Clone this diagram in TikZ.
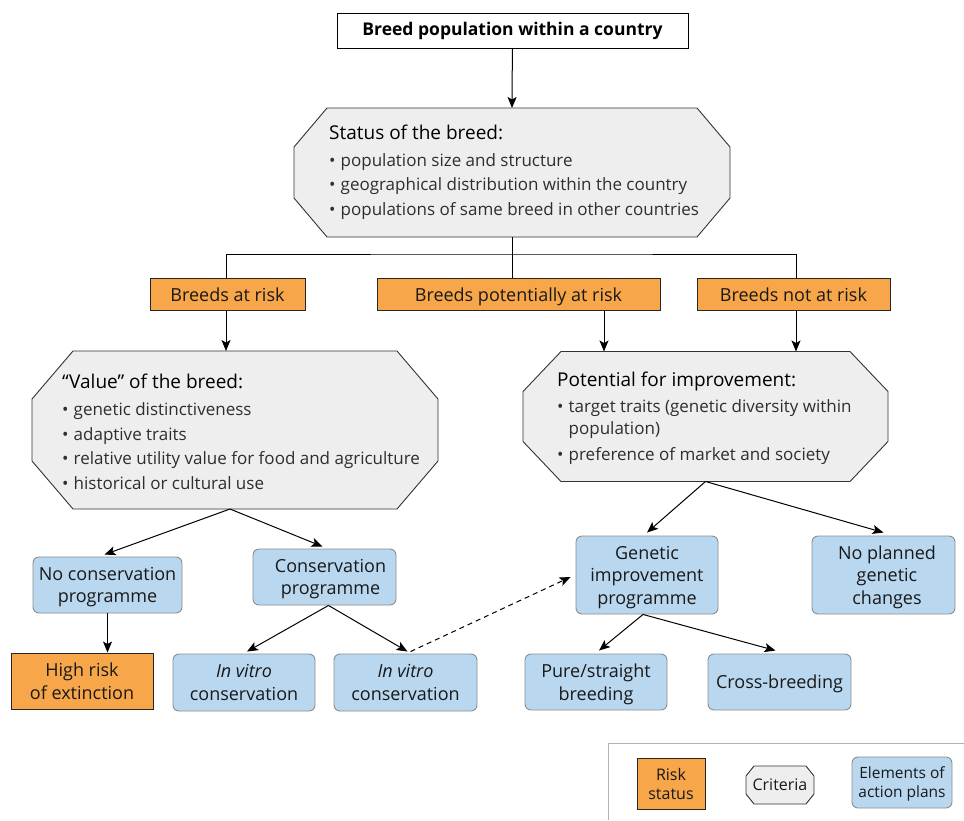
\documentclass[tikz,border=0pt]{standalone}
\usepackage{fontspec}
\setmainfont{Open Sans}
\usetikzlibrary{arrows.meta}
\definecolor{riskor}{HTML}{F7A64A}
\definecolor{planbl}{HTML}{B9D8F0}
\definecolor{critgr}{HTML}{EEEEEE}
\newcommand\bul{\textbullet\hspace{0.3em}}
\newcommand\octdraw[3]{%
  \draw[octline] ([xshift=#2]#1.north west) -- ([xshift=-#2]#1.north east)
    -- ([yshift=-#3]#1.north east) -- ([yshift=#3]#1.south east)
    -- ([xshift=-#2]#1.south east) -- ([xshift=#2]#1.south west)
    -- ([yshift=#3]#1.south west) -- ([yshift=-#3]#1.north west) -- cycle;}
\begin{document}
\begin{tikzpicture}[x=1pt,y=-1pt,
  font=\fontsize{18}{22.5}\selectfont,
  riskbox/.style={draw=black!85, fill=riskor, line width=0.9pt, align=center, inner sep=0pt, text=black!90, text depth=0pt},
  planbox/.style={draw=black!45, fill=planbl, rounded corners=6pt, line width=0.9pt, align=center, inner sep=0pt, text=black!90, text depth=0pt},
  rowbox/.style={riskbox, minimum height=32pt, text height=15pt, text depth=2pt},
  octarea/.style={inner sep=0pt, outer sep=0pt},
  octline/.style={draw=black!80, fill=critgr, line width=0.9pt},
  octtext/.style={align=left, inner sep=0pt, font=\fontsize{17}{24.5}\selectfont, text=black!82},
  arr/.style={-{Stealth[length=11pt,width=9pt,inset=2.5pt]}, line width=1pt},
  ln/.style={line width=1pt}]
\useasboundingbox (0,0) rectangle (964,820);

% top
\node[draw, fill=white, line width=1pt, minimum width=351pt, minimum height=35pt, inner sep=0pt,
  font=\bfseries\fontsize{17.5}{20}\selectfont] (top) at (512.5,31) {Breed population within a country};

% status octagon
\node[octarea, minimum width=436pt, minimum height=129pt] (status) at (512,172.5) {};
\octdraw{status}{33pt}{39pt}
\node[octtext, anchor=north west] (statustx) at (329,124.5)
 {{\fontsize{19}{24.5}\selectfont\color{black} Status of the breed:}\\[2.5pt]
  \bul population size and structure\\
  \bul geographical distribution within the country\\
  \bul populations of same breed in other countries};

% risk status row
\node[rowbox, minimum width=155pt] (atrisk) at (227.5,294.5) {Breeds at risk};
\node[rowbox, minimum width=283pt] (potential) at (518.5,294.5) {Breeds potentially at risk};
\node[rowbox, minimum width=193pt] (notat) at (793.5,294.5) {Breeds not at risk};
\coordinate (bus) at (512,254);

% value octagon
\node[octarea, minimum width=406pt, minimum height=158pt] (value) at (235,430) {};
\octdraw{value}{41pt}{48pt}
\node[octtext, anchor=north west] (valuetx) at (62,374)
 {{\fontsize{19}{24.5}\selectfont\color{black} “Value” of the breed:}\\[2.5pt]
  \bul genetic distinctiveness\\
  \bul adaptive traits\\
  \bul relative utility value for food and agriculture\\
  \bul historical or cultural use};

% potential octagon
\node[octarea, minimum width=365pt, minimum height=130pt] (potimp) at (705.5,416.5) {};
\octdraw{potimp}{38pt}{40pt}
\node[octtext, anchor=north west] (potimptx) at (557,372)
 {{\fontsize{19}{24.5}\selectfont\color{black} Potential for improvement:}\\[1pt]
  \bul target traits (genetic diversity within\\[-2.5pt]
  \hphantom{\bul}population)\\[1.5pt]
  \bul preference of market and society};

% action elements
\node[planbox, minimum width=149pt, minimum height=56pt] (nocons) at (107.5,585) {No conservation\\programme};
\node[planbox, minimum width=143pt, minimum height=56pt] (cons) at (324.5,577) {\hspace*{12pt}Conservation\\\hspace*{12pt}programme};
\node[riskbox, minimum width=142pt, minimum height=56pt] (highrisk) at (82,681) {High risk\\of extinction};
\node[planbox, minimum width=142pt, minimum height=57pt] (invitroa) at (244,682.5) {\textit{In vitro}\\conservation};
\node[planbox, minimum width=143pt, minimum height=57pt] (invitrob) at (405.5,682.5) {\textit{In vitro}\\conservation};
\node[planbox, minimum width=142pt, minimum height=78pt] (gip) at (647,575) {Genetic\\improvement\\programme};
\node[planbox, minimum width=143pt, minimum height=78pt] (noplan) at (883.5,575) {\hspace*{7pt}No planned\\\hspace*{7pt}genetic\\\hspace*{7pt}changes};
\node[planbox, minimum width=142pt, minimum height=56pt] (pure) at (596,682) {Pure/straight\\breeding};
\node[planbox, minimum width=143pt, minimum height=56pt] (cross) at (779.5,682) {Cross-breeding};

% connectors
\draw[arr] (top) -- (status.north);
\draw[ln] (status.south) -- (status.south |- potential.north);
\draw[ln] (atrisk.north -| 226,0) |- (bus) -| (notat.north -| 796,0);
\draw[arr] (atrisk.south -| 226,0) -- (value.north -| 226,0);
\draw[arr] (potential.south -| 604,0) -- (potimp.north -| 604,0);
\draw[arr] (notat.south -| 796,0) -- (potimp.north -| 796,0);
\draw[arr] ([xshift=-5pt]value.south) -- ([xshift=-3pt,yshift=2pt]nocons.north);
\draw[arr] ([xshift=-5pt]value.south) -- ([xshift=-2pt,yshift=2pt]cons.north);
\draw[arr] (nocons.south) -- (nocons.south |- highrisk.north);
\draw[arr] ([xshift=4pt]cons.south) -- ([xshift=3pt,yshift=2pt]invitroa.north);
\draw[arr] ([xshift=4pt]cons.south) -- ([xshift=2pt,yshift=2pt]invitrob.north);
\draw[arr, dashed, dash pattern=on 5pt off 4pt] ([xshift=5pt,yshift=2pt]invitrob.north) -- ([xshift=-5pt,yshift=-2pt]gip.west);
\draw[arr] (potimp.south) -- ([yshift=3pt]gip.north);
\draw[arr] (potimp.south) -- ([yshift=3pt]noplan.north);
\draw[arr] ([xshift=-4pt]gip.south) -- ([xshift=3pt,yshift=3pt]pure.north);
\draw[arr] ([xshift=-4pt]gip.south) -- ([xshift=-4pt,yshift=3pt]cross.north);

% legend
\draw[black!30, line width=1pt] (608,820) -- (608,743) -- (964,743);
\node[riskbox, minimum width=68pt, minimum height=51pt, font=\fontsize{16}{19}\selectfont] (legrisk) at (671,783.5) {Risk\\status};
\node[octarea, minimum width=68pt, minimum height=38pt] (legcrit) at (780,785) {};
\octdraw{legcrit}{8pt}{10pt}
\node[inner sep=0pt, font=\fontsize{16}{19}\selectfont, text=black!90] (legcrittx) at (780,785) {Criteria};
\node[planbox, minimum width=100pt, minimum height=51pt, font=\fontsize{15.5}{19}\selectfont] (legplan) at (902,782.5) {Elements of\\action plans};
\end{tikzpicture}
\end{document}
